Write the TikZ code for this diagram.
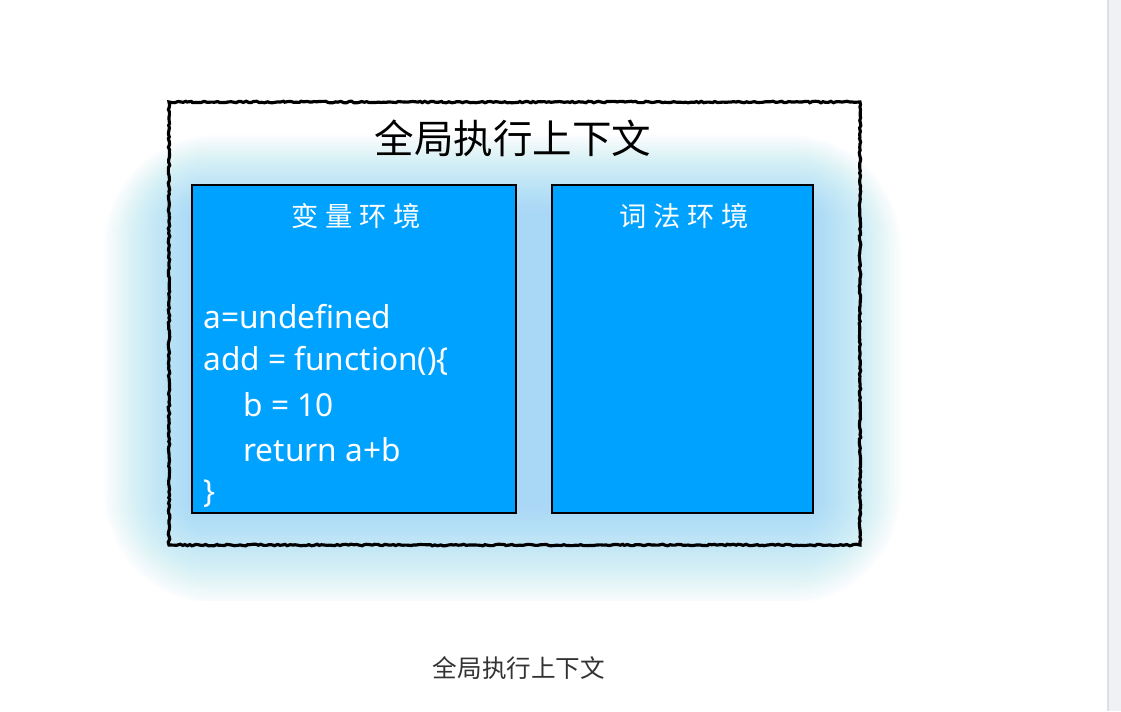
\documentclass[tikz,border=0pt]{standalone}
\usepackage{fontspec}
\setmainfont{Noto Sans}
\newfontfamily\cjk{Noto Sans CJK SC}
\newfontfamily\cjkspaced[LetterSpace=25]{Noto Sans CJK SC}
\usetikzlibrary{decorations.pathmorphing}
\definecolor{envblue}{HTML}{00A2FF}
\definecolor{glowblue}{HTML}{8ED8F6}
\definecolor{captiongray}{HTML}{333333}
\definecolor{barfill}{HTML}{EFF1F5}
\definecolor{barline}{HTML}{DCDFE5}
\tikzset{
  envbox/.style={fill=envblue,draw=black,line width=1.3pt},
  envtitle/.style={text=white,font=\cjkspaced\fontsize{15.5}{15.5}\selectfont},
  codeline/.style={anchor=west,text=white,inner sep=0pt,font=\fontsize{18}{18}\selectfont},
  roughframe/.style={draw=black,line width=1.8pt,decorate,
    decoration={random steps,segment length=1.5pt,amplitude=0.45pt}}
}
\begin{document}
\begin{tikzpicture}[x=0.02cm,y=-0.02cm]
        \useasboundingbox (0,0) rectangle (1121,711);
        \fill[white] (0,0) rectangle (1121,711);
        %barra di scorrimento
        \fill[barfill] (1108,0) rectangle (1121,711);
        \draw[barline,line width=1pt] (1108,0) -- (1108,711);

        %alone azzurro
        \begin{scope}
          \clip (100,40) rectangle (905,600);
          \foreach \g in {1,...,40}{
            \fill[glowblue,opacity=0.028,rounded corners=1.6*\g]
              (200-2.4*\g,215-2*\g) rectangle (805+2.4*\g,500+2.6*\g);
          }
        \end{scope}

        %cornice contesto globale
        \draw[roughframe] (169,102) rectangle (860,545);
        \node (gctx) at (513,138) {\cjk\fontsize{22.5}{22.5}\selectfont 全局执行上下文};

        %ambiente variabili
        \draw[envbox] (192,185) rectangle (516,513);
        \node[envtitle] (varenv) at (356,216) {变量环境};
        \node[codeline] (l1) at (203,317) {a=undefined};
        \node[codeline] (l2) at (203,361) {add = function()\{};
        \node[codeline] (l3) at (243,405) {b = 10};
        \node[codeline] (l4) at (243,450) {return a+b};
        \node[codeline] (l5) at (203,494) {\}};

        %ambiente lessicale
        \draw[envbox] (552,185) rectangle (813,513);
        \node[envtitle] (lexenv) at (684,216) {词法环境};

        %didascalia
        \node[text=captiongray] (caption) at (519,668) {\cjk\fontsize{14}{14}\selectfont 全局执行上下文};
\end{tikzpicture}
\end{document}
